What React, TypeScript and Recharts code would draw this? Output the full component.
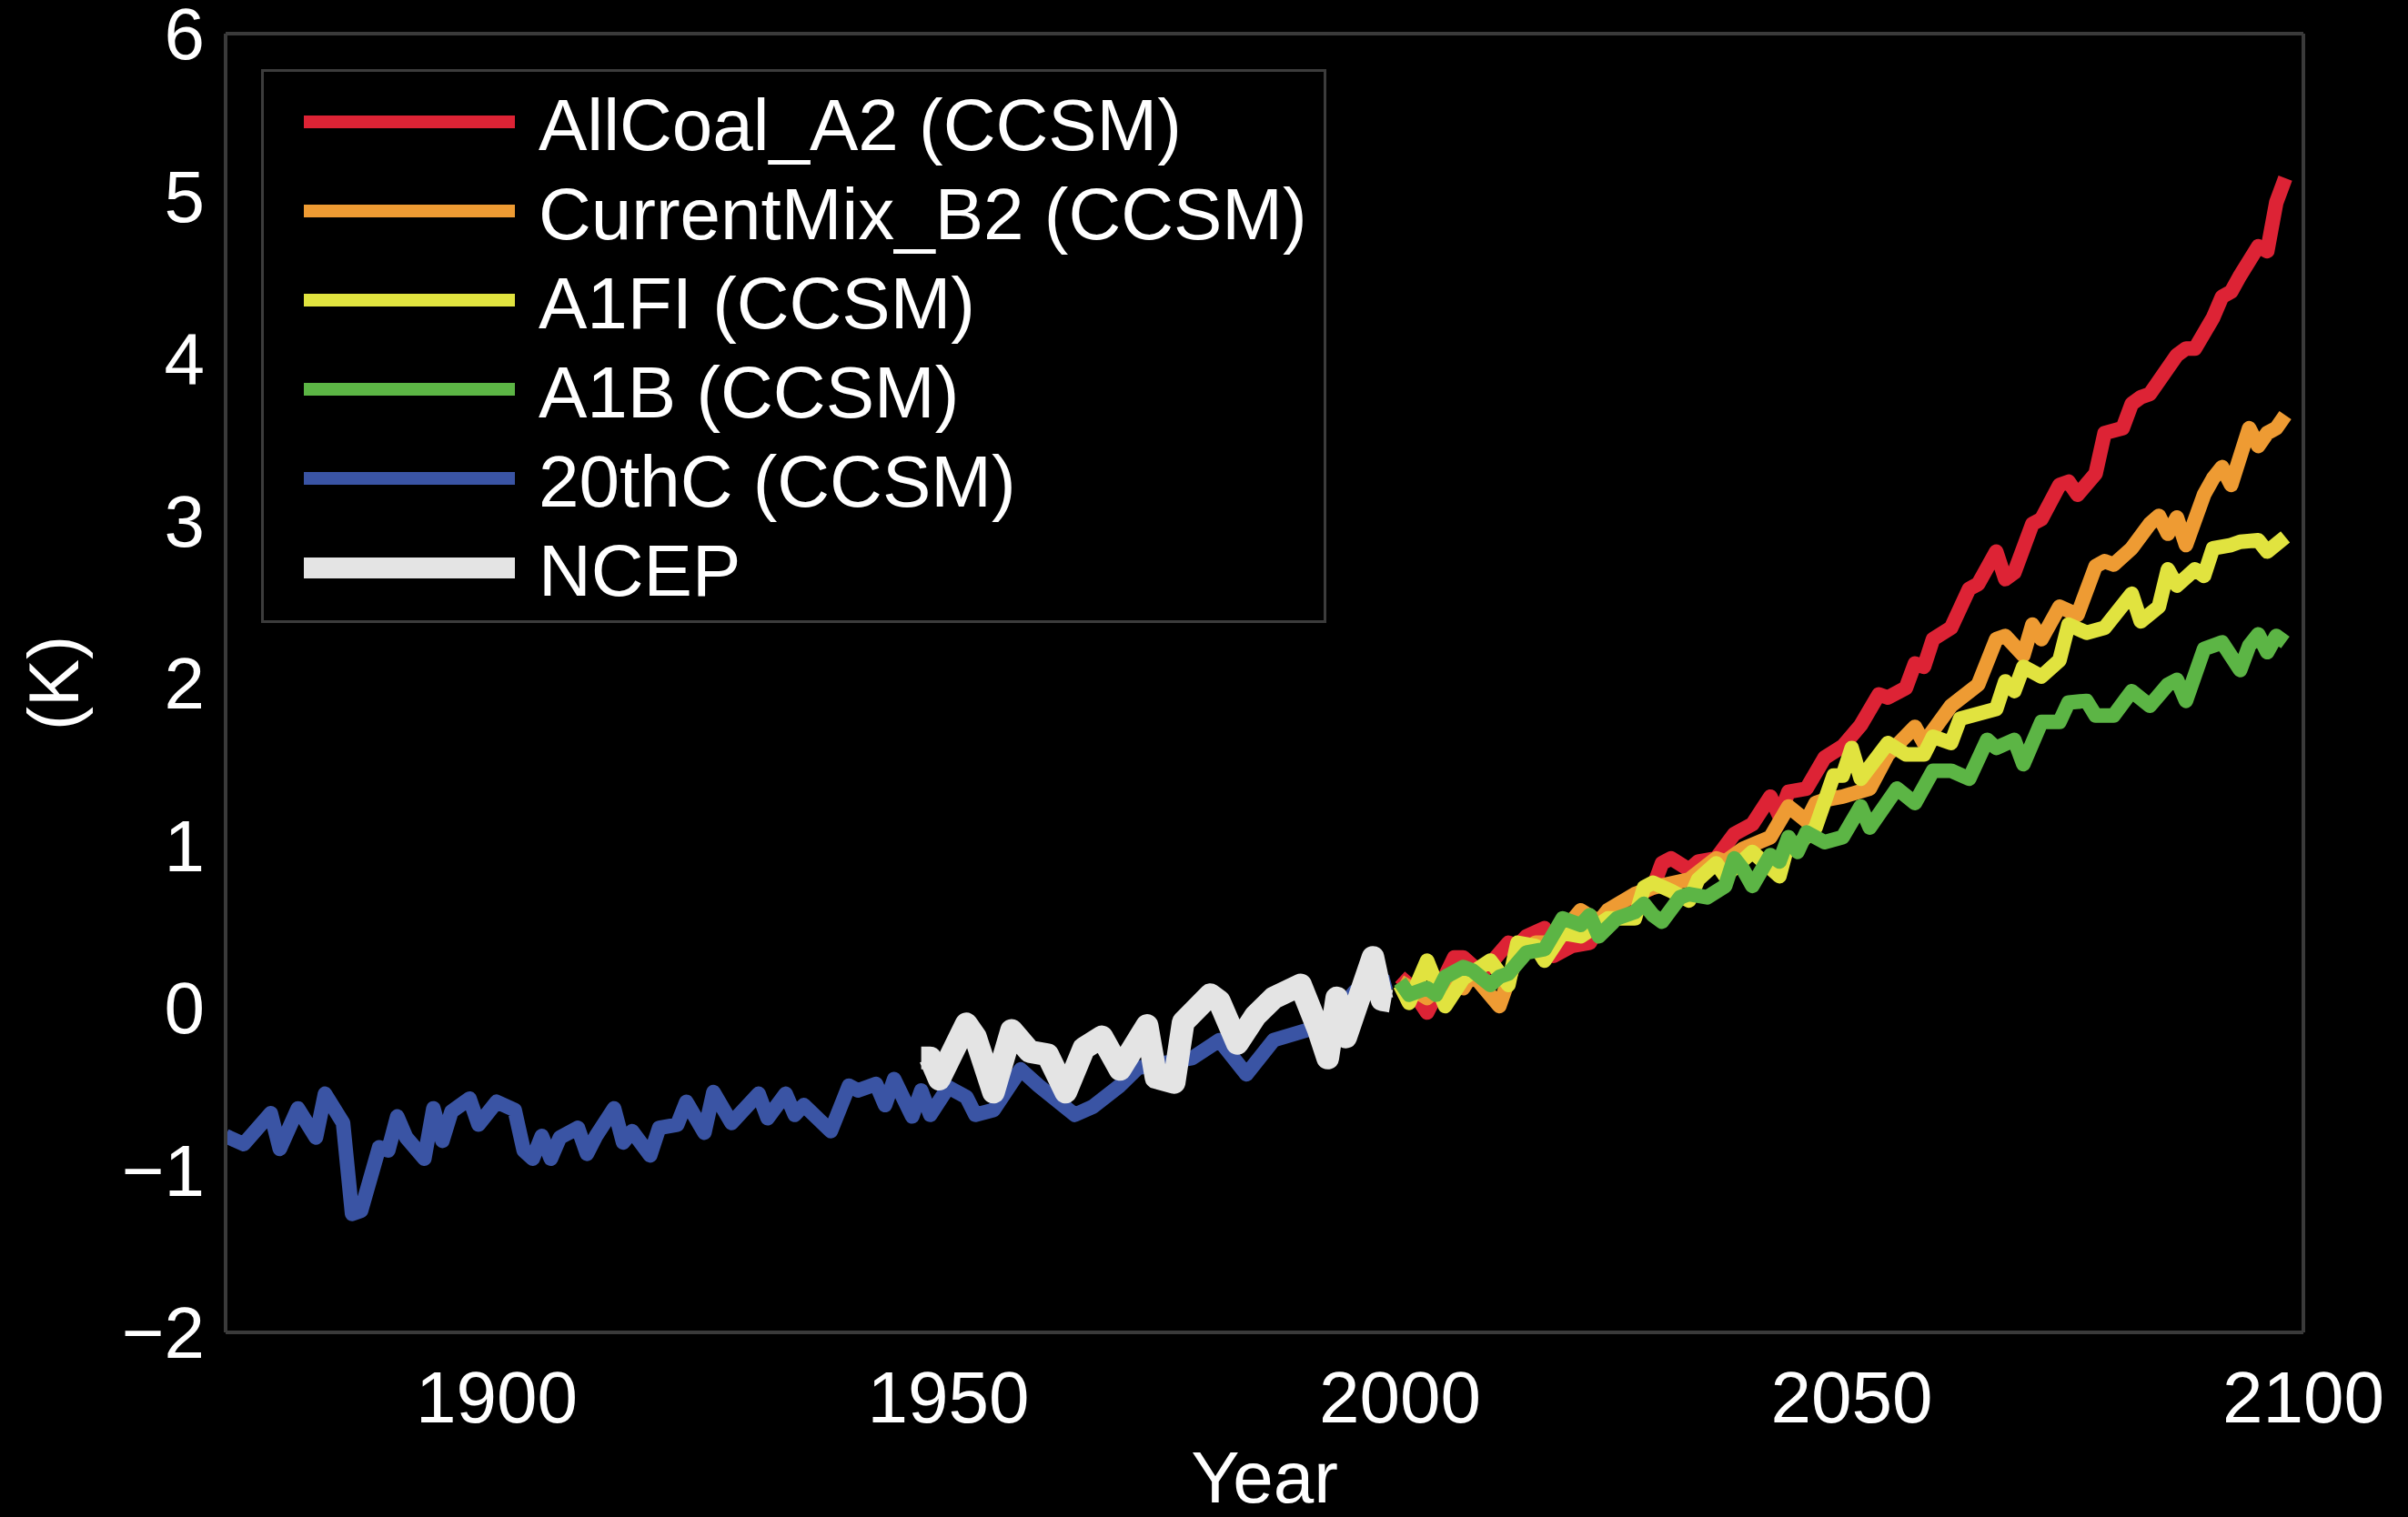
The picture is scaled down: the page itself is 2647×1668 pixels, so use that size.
import React from 'react';
import { LineChart, Line, XAxis, YAxis } from 'recharts';

const W = 2647;
const H = 1668;
const FONT = '"Liberation Sans", Arial, Helvetica, sans-serif';
const FRAME = '#3a3a3a';

const xTicks = [1900, 1950, 2000, 2050, 2100];
const yTicks = [-2, -1, 0, 1, 2, 3, 4, 5, 6];

// 20thC (CCSM)
const c20Years = [1870, 1872, 1875, 1876, 1878, 1880, 1881, 1883, 1884, 1885, 1887, 1888, 1889, 1890, 1892, 1893, 1894, 1895, 1897, 1898, 1900, 1902, 1903, 1904, 1905, 1906, 1907, 1909, 1910, 1911, 1913, 1914, 1915, 1917, 1918, 1920, 1921, 1923, 1924, 1926, 1929, 1930, 1932, 1933, 1934, 1937, 1939, 1940, 1942, 1943, 1944, 1946, 1947, 1948, 1950, 1952, 1953, 1955, 1958, 1960, 1964, 1966, 1969, 1971, 1977, 1980, 1983, 1986, 1992, 1995, 1999];
const c20Values = [-0.79, -0.84, -0.65, -0.87, -0.62, -0.8, -0.53, -0.71, -1.27, -1.25, -0.86, -0.88, -0.67, -0.8, -0.93, -0.62, -0.82, -0.64, -0.56, -0.72, -0.58, -0.63, -0.88, -0.93, -0.79, -0.93, -0.8, -0.74, -0.9, -0.79, -0.62, -0.83, -0.76, -0.91, -0.74, -0.72, -0.58, -0.77, -0.52, -0.71, -0.53, -0.68, -0.53, -0.66, -0.6, -0.76, -0.48, -0.51, -0.47, -0.6, -0.44, -0.67, -0.51, -0.66, -0.49, -0.55, -0.66, -0.63, -0.38, -0.48, -0.66, -0.61, -0.48, -0.37, -0.31, -0.2, -0.41, -0.2, -0.1, 0.1, 0.16];

// NCEP reanalysis
const ncepYears = [1947, 1948, 1949, 1952, 1953, 1955, 1957, 1959, 1961, 1963, 1965, 1967, 1969, 1972, 1973, 1975, 1976, 1979, 1980, 1982, 1984, 1986, 1989, 1991, 1992, 1993, 1994, 1997, 1998, 1999];
const ncepValues = [-0.31, -0.31, -0.44, -0.1, -0.18, -0.52, -0.14, -0.27, -0.29, -0.52, -0.25, -0.18, -0.38, -0.11, -0.43, -0.46, -0.09, 0.08, 0.04, -0.22, -0.05, 0.06, 0.14, -0.14, -0.31, 0.06, -0.18, 0.31, 0.05, 0.04];

// AllCoal_A2
const coalYears = [2000, 2001, 2003, 2004, 2006, 2007, 2009, 2010, 2012, 2013, 2014, 2016, 2017, 2019, 2021, 2023, 2025, 2028, 2029, 2030, 2032, 2033, 2035, 2037, 2039, 2041, 2042, 2043, 2045, 2047, 2049, 2051, 2053, 2054, 2056, 2057, 2058, 2059, 2061, 2063, 2064, 2066, 2067, 2068, 2070, 2071, 2073, 2074, 2075, 2077, 2078, 2080, 2081, 2082, 2083, 2086, 2087, 2088, 2090, 2091, 2092, 2093, 2095, 2096, 2097, 2098];
const coalValues = [0.19, 0.14, -0.03, 0.08, 0.31, 0.31, 0.21, 0.27, 0.4, 0.38, 0.44, 0.49, 0.32, 0.38, 0.4, 0.59, 0.66, 0.74, 0.89, 0.92, 0.85, 0.9, 0.92, 1.07, 1.13, 1.3, 1.18, 1.33, 1.35, 1.54, 1.61, 1.74, 1.93, 1.91, 1.97, 2.12, 2.1, 2.27, 2.34, 2.58, 2.61, 2.81, 2.64, 2.68, 2.98, 3.01, 3.22, 3.24, 3.16, 3.29, 3.54, 3.57, 3.72, 3.76, 3.78, 4.02, 4.06, 4.06, 4.25, 4.38, 4.41, 4.51, 4.69, 4.66, 4.96, 5.11];

// CurrentMix_B2
const mixYears = [2000, 2003, 2005, 2007, 2008, 2011, 2012, 2013, 2015, 2017, 2020, 2022, 2023, 2026, 2028, 2032, 2035, 2036, 2038, 2041, 2043, 2045, 2046, 2047, 2049, 2052, 2054, 2057, 2058, 2061, 2064, 2066, 2067, 2069, 2070, 2071, 2073, 2075, 2077, 2078, 2079, 2081, 2083, 2084, 2085, 2086, 2087, 2089, 2090, 2091, 2092, 2094, 2095, 2096, 2097, 2098];
const mixValues = [0.16, 0.06, 0.16, 0.12, 0.21, 0.01, 0.17, 0.32, 0.4, 0.4, 0.6, 0.53, 0.6, 0.7, 0.74, 0.79, 0.92, 0.9, 0.98, 1.05, 1.24, 1.15, 1.26, 1.28, 1.3, 1.35, 1.56, 1.73, 1.63, 1.86, 1.99, 2.27, 2.29, 2.17, 2.36, 2.27, 2.47, 2.42, 2.72, 2.75, 2.73, 2.83, 2.98, 3.03, 2.92, 3.02, 2.85, 3.16, 3.26, 3.33, 3.22, 3.57, 3.46, 3.54, 3.57, 3.65];

// A1FI
const a1fiYears = [2000, 2001, 2003, 2005, 2007, 2010, 2012, 2013, 2015, 2016, 2018, 2020, 2023, 2026, 2027, 2028, 2030, 2032, 2033, 2035, 2036, 2039, 2042, 2043, 2044, 2046, 2048, 2049, 2050, 2051, 2054, 2056, 2058, 2059, 2061, 2062, 2066, 2067, 2068, 2069, 2071, 2073, 2074, 2076, 2078, 2081, 2082, 2084, 2085, 2086, 2088, 2089, 2090, 2092, 2093, 2095, 2096, 2098];
const a1fiValues = [0.14, 0.03, 0.29, 0.01, 0.18, 0.29, 0.14, 0.4, 0.38, 0.29, 0.46, 0.44, 0.55, 0.55, 0.74, 0.77, 0.72, 0.66, 0.79, 0.89, 0.81, 0.96, 0.81, 1.02, 1.0, 1.11, 1.43, 1.43, 1.6, 1.41, 1.63, 1.56, 1.56, 1.67, 1.63, 1.78, 1.84, 2.01, 1.95, 2.1, 2.04, 2.14, 2.36, 2.31, 2.34, 2.55, 2.38, 2.47, 2.7, 2.6, 2.7, 2.66, 2.83, 2.85, 2.87, 2.88, 2.81, 2.9];

// A1B
const a1bYears = [2000, 2001, 2003, 2004, 2005, 2007, 2008, 2010, 2011, 2012, 2014, 2016, 2018, 2020, 2021, 2022, 2024, 2026, 2027, 2028, 2029, 2031, 2032, 2034, 2036, 2037, 2038, 2039, 2041, 2042, 2043, 2044, 2045, 2047, 2049, 2051, 2052, 2055, 2057, 2059, 2061, 2063, 2065, 2066, 2068, 2069, 2071, 2073, 2074, 2076, 2077, 2079, 2081, 2083, 2085, 2086, 2087, 2089, 2091, 2093, 2094, 2095, 2096, 2097, 2098];
const a1bValues = [0.16, 0.08, 0.12, 0.08, 0.19, 0.25, 0.23, 0.14, 0.19, 0.21, 0.34, 0.36, 0.55, 0.51, 0.57, 0.44, 0.55, 0.59, 0.64, 0.57, 0.53, 0.68, 0.7, 0.68, 0.75, 0.92, 0.85, 0.75, 0.94, 0.9, 1.05, 0.96, 1.08, 1.02, 1.05, 1.24, 1.11, 1.35, 1.26, 1.46, 1.46, 1.41, 1.65, 1.6, 1.65, 1.5, 1.76, 1.76, 1.88, 1.89, 1.8, 1.8, 1.95, 1.86, 1.99, 2.02, 1.89, 2.21, 2.25, 2.08, 2.23, 2.3, 2.19, 2.29, 2.25];

const pts = (years: number[], values: number[]) =>
  years.map((year, i) => ({ year, value: values[i] }));

interface Series {
  name: string;
  color: string;
  width: number;
  data: { year: number; value: number }[];
}

const coal: Series = { name: 'AllCoal_A2 (CCSM)', color: '#dd2335', width: 16, data: pts(coalYears, coalValues) };
const mix: Series = { name: 'CurrentMix_B2 (CCSM)', color: '#ee9b33', width: 16, data: pts(mixYears, mixValues) };
const a1fi: Series = { name: 'A1FI (CCSM)', color: '#e1e33f', width: 16, data: pts(a1fiYears, a1fiValues) };
const a1b: Series = { name: 'A1B (CCSM)', color: '#5cb545', width: 16, data: pts(a1bYears, a1bValues) };
const c20: Series = { name: '20thC (CCSM)', color: '#3a54a4', width: 16, data: pts(c20Years, c20Values) };
const ncep: Series = { name: 'NCEP', color: '#e4e4e4', width: 25, data: pts(ncepYears, ncepValues) };

const legendOrder = [coal, mix, a1fi, a1b, c20, ncep];
const drawOrder = [c20, ncep, coal, mix, a1fi, a1b];

const tickStyle = { fill: '#ffffff', fontSize: 80, fontFamily: FONT };
const frameLine = { stroke: FRAME, strokeWidth: 4 };

const fmtY = (v: number) => (v < 0 ? `\u2212${-v}` : `${v}`);

const ChartLegend = () => (
  <div
    style={{
      position: 'absolute',
      left: 287,
      top: 76,
      width: 1171,
      height: 609,
      boxSizing: 'border-box',
      border: `3px solid #3c3c3c`,
      background: '#000',
      fontFamily: FONT,
    }}
  >
    {legendOrder.map((s, i) => {
      const center = 55 + i * 98;
      const lw = s.name === 'NCEP' ? 23 : 14;
      return (
        <div key={s.name}>
          <div
            style={{
              position: 'absolute',
              left: 44,
              top: center - lw / 2,
              width: 232,
              height: lw,
              background: s.color,
            }}
          />
          <div
            style={{
              position: 'absolute',
              left: 302,
              top: center - 40 + 4,
              height: 80,
              lineHeight: '80px',
              fontSize: 80,
              color: '#fff',
              whiteSpace: 'nowrap',
            }}
          >
            {s.name}
          </div>
        </div>
      );
    })}
  </div>
);

const App: React.FC = () => {
  return (
    <div style={{ position: 'absolute', left: 0, top: 0, width: W, height: H, background: '#000', overflow: 'hidden' }}>
      <LineChart width={W} height={H} margin={{ top: 37, right: 115, bottom: 0, left: 0 }}>
        <XAxis
          xAxisId="x"
          type="number"
          dataKey="year"
          domain={[1870, 2100]}
          allowDataOverflow
          ticks={xTicks}
          interval={0}
          height={203}
          axisLine={false}
          tickLine={false}
          tickSize={0}
          tickMargin={42}
          tick={tickStyle}
          label={() => (
            <text x={1390} y={1652} textAnchor="middle" fill="#fff" fontSize={80} fontFamily={FONT}>
              Year
            </text>
          )}
        />
        <XAxis xAxisId="xb" type="number" orientation="bottom" mirror domain={[1870, 2100]} allowDataOverflow ticks={xTicks} interval={0} tickSize={24} tick={false} axisLine={frameLine} tickLine={frameLine} />
        <XAxis xAxisId="xt" type="number" orientation="top" mirror domain={[1870, 2100]} allowDataOverflow ticks={xTicks} interval={0} tickSize={24} tick={false} axisLine={frameLine} tickLine={frameLine} />
        <YAxis
          yAxisId="y"
          type="number"
          domain={[-2, 6]}
          allowDataOverflow
          ticks={yTicks}
          interval={0}
          width={248}
          axisLine={false}
          tickLine={false}
          tickSize={0}
          tickMargin={23}
          tick={tickStyle}
          tickFormatter={fmtY}
          label={() => (
            <text
              x={59}
              y={751}
              transform="rotate(-90 59 751)"
              textAnchor="middle"
              dominantBaseline="central"
              fill="#fff"
              fontSize={78}
              fontFamily={FONT}
            >
              (K)
            </text>
          )}
        />
        <YAxis yAxisId="yl" type="number" orientation="left" mirror domain={[-2, 6]} allowDataOverflow ticks={yTicks} interval={0} tickSize={24} tick={false} axisLine={frameLine} tickLine={frameLine} />
        <YAxis yAxisId="yr" type="number" orientation="right" mirror domain={[-2, 6]} allowDataOverflow ticks={yTicks} interval={0} tickSize={24} tick={false} axisLine={frameLine} tickLine={frameLine} />
        {drawOrder.map((s) => (
          <Line
            key={s.name}
            xAxisId="x"
            yAxisId="y"
            data={s.data}
            dataKey="value"
            name={s.name}
            type="linear"
            stroke={s.color}
            strokeWidth={s.width}
            strokeLinejoin="round"
            strokeLinecap="butt"
            dot={false}
            activeDot={false}
            isAnimationActive={false}
          />
        ))}
      </LineChart>
      <ChartLegend />
    </div>
  );
};

export default App;
